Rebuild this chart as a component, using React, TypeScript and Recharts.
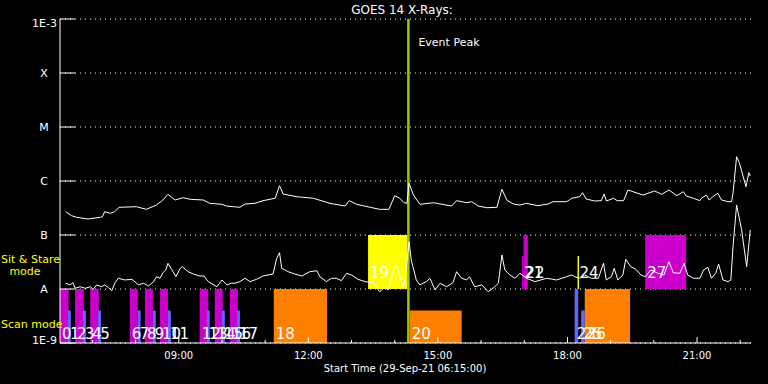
import {
  ComposedChart,
  Line,
  XAxis,
  YAxis,
  CartesianGrid,
  ReferenceArea,
  ReferenceLine,
} from "recharts";

const FONT = "'DejaVu Sans', sans-serif";
const WHITE = "#ffffff";
const YELLOW = "#ffff00";

const START = "06:15";
const END = "22:15";
const HOUR_TICKS = [7, 8, 9, 10, 11, 12, 13, 14, 15, 16, 17, 18, 19, 20, 21, 22];
const LABELLED_HOURS = [9, 12, 15, 18, 21];
const FLUX_TICKS = [1e-9, 1e-8, 1e-7, 1e-6, 1e-5, 1e-4, 1e-3];
const FLUX_NAMES = ["1E-9", "A", "B", "C", "M", "X", "1E-3"];
const EVENT_PEAK = "14:19";

// GOES long channel (1-8 A)
const longChannel: [string, number][] = [
  ["06:23", 2.7e-7], ["06:31", 2.28e-7], ["06:38", 2.13e-7], ["06:54", 1.98e-7],
  ["07:11", 2.13e-7], ["07:14", 2.18e-7], ["07:17", 2.7e-7], ["07:25", 2.52e-7],
  ["07:31", 2.7e-7], ["07:37", 3.26e-7], ["08:01", 3.34e-7], ["08:15", 2.99e-7],
  ["08:29", 3.59e-7], ["08:38", 4.45e-7], ["08:45", 5.67e-7], ["08:55", 4.45e-7],
  ["09:06", 4.91e-7], ["09:16", 4.58e-7], ["09:34", 4.45e-7], ["09:43", 3.86e-7],
  ["10:00", 3.7e-7], ["10:06", 3.44e-7], ["10:16", 3.34e-7], ["10:25", 3.26e-7],
  ["10:32", 3.75e-7], ["10:46", 3.86e-7], ["10:57", 4.32e-7], ["11:14", 4.79e-7],
  ["11:20", 8.18e-7], ["11:25", 5.74e-7], ["11:44", 5.12e-7], ["12:07", 4.79e-7],
  ["12:30", 3.86e-7], ["12:51", 3.44e-7], ["12:57", 4.32e-7], ["13:07", 3.7e-7],
  ["13:26", 3.26e-7], ["13:39", 2.99e-7], ["13:52", 2.99e-7], ["14:00", 5.35e-7],
  ["14:07", 4.79e-7], ["14:13", 3.96e-7], ["14:17", 3.86e-7], ["14:20", 9.06e-7],
  ["14:26", 5.5e-7], ["14:35", 3.7e-7], ["14:54", 3.96e-7], ["15:19", 3.44e-7],
  ["15:26", 4.32e-7], ["15:40", 3.96e-7], ["15:47", 4.14e-7], ["15:56", 3.44e-7],
  ["16:08", 3.2e-7], ["16:22", 3.26e-7], ["16:29", 7.02e-7], ["16:36", 4.37e-7],
  ["16:45", 3.75e-7], ["16:54", 3.59e-7], ["17:03", 3.86e-7], ["17:19", 3.49e-7],
  ["17:33", 3.75e-7], ["17:40", 4.14e-7], ["17:59", 4.14e-7], ["18:06", 4.79e-7],
  ["18:17", 5.12e-7], ["18:21", 6.07e-7], ["18:26", 4.64e-7], ["18:38", 4.26e-7],
  ["18:47", 4.32e-7], ["18:51", 5.74e-7], ["18:54", 4.26e-7], ["19:04", 4.79e-7],
  ["19:09", 4.32e-7], ["19:18", 4.32e-7], ["19:24", 6.81e-7], ["19:31", 6.34e-7],
  ["19:45", 5.5e-7], ["20:01", 6.53e-7], ["20:11", 5.67e-7], ["20:21", 6.81e-7],
  ["20:32", 5.35e-7], ["20:41", 6.34e-7], ["20:45", 5.27e-7], ["20:55", 4.79e-7],
  ["21:04", 4.32e-7], ["21:06", 4.79e-7], ["21:13", 5.5e-7], ["21:17", 4.45e-7],
  ["21:22", 5.12e-7], ["21:29", 5.92e-7], ["21:34", 4.45e-7], ["21:43", 4.14e-7],
  ["21:48", 4.14e-7], ["21:50", 5.92e-7], ["21:55", 2.82e-6], ["21:59", 2.13e-6],
  ["22:08", 7.84e-7], ["22:12", 1.43e-6], ["22:14", 1.24e-6],
];

// GOES short channel (0.5-4 A)
const shortChannel: [string, number][] = [
  ["06:23", 1.28e-8], ["06:29", 1.19e-8], ["06:33", 1.31e-8], ["06:36", 1.03e-8],
  ["06:43", 1.1e-8], ["06:50", 1.03e-8], ["06:57", 1.1e-8], ["07:01", 9.9e-9],
  ["07:06", 1.19e-8], ["07:13", 1.1e-8], ["07:17", 1.19e-8], ["07:22", 1.07e-8],
  ["07:27", 9.3e-9], ["07:31", 1.28e-8], ["07:36", 1.58e-8], ["07:45", 1.47e-8],
  ["07:55", 1.51e-8], ["08:04", 1.19e-8], ["08:11", 1.28e-8], ["08:18", 1.14e-8],
  ["08:25", 1.37e-8], ["08:29", 1.69e-8], ["08:34", 1.58e-8], ["08:38", 2.0e-8],
  ["08:42", 2.25e-8], ["08:45", 2.99e-8], ["08:50", 2.32e-8], ["08:56", 1.69e-8],
  ["09:02", 2.42e-8], ["09:05", 2.59e-8], ["09:13", 2.09e-8], ["09:20", 1.9e-8],
  ["09:29", 1.74e-8], ["09:35", 1.74e-8], ["09:41", 1.37e-8], ["09:53", 1.1e-8],
  ["10:00", 1.47e-8], ["10:07", 1.19e-8], ["10:13", 1.28e-8], ["10:18", 1.28e-8],
  ["10:25", 1.37e-8], ["10:32", 1.58e-8], ["10:39", 1.37e-8], ["10:48", 1.51e-8],
  ["10:57", 1.74e-8], ["11:11", 1.9e-8], ["11:16", 3.7e-8], ["11:20", 4.7e-8],
  ["11:23", 2.42e-8], ["11:32", 2.09e-8], ["11:41", 1.9e-8], ["11:51", 1.74e-8],
  ["12:02", 2.09e-8], ["12:12", 2.18e-8], ["12:16", 1.69e-8], ["12:25", 1.37e-8],
  ["12:32", 1.58e-8], ["12:39", 1.58e-8], ["12:46", 1.43e-8], ["12:53", 1.95e-8],
  ["13:00", 1.82e-8], ["13:09", 1.51e-8], ["13:19", 1.37e-8], ["13:30", 1.31e-8],
  ["13:39", 8.9e-9], ["13:46", 1.07e-8], ["13:51", 9.6e-9], ["13:58", 2.18e-8],
  ["14:02", 2.78e-8], ["14:07", 1.82e-8], ["14:12", 1.1e-8], ["14:14", 1.37e-8],
  ["14:20", 7.52e-8], ["14:23", 3.44e-8], ["14:30", 1.47e-8], ["14:35", 1.19e-8],
  ["14:44", 1.37e-8], ["14:49", 1.58e-8], ["14:56", 9.6e-9], ["15:03", 1.28e-8],
  ["15:12", 1.1e-8], ["15:21", 1.31e-8], ["15:26", 2.09e-8], ["15:33", 1.58e-8],
  ["15:40", 1.47e-8], ["15:44", 1.69e-8], ["15:51", 1.1e-8], ["16:01", 1.19e-8],
  ["16:10", 8.9e-9], ["16:19", 1.1e-8], ["16:24", 1.28e-8], ["16:29", 4.26e-8],
  ["16:33", 2.25e-8], ["16:40", 1.82e-8], ["16:47", 1.58e-8], ["16:54", 1.95e-8],
  ["17:03", 1.58e-8], ["17:15", 1.37e-8], ["17:31", 1.58e-8], ["17:45", 1.47e-8],
  ["17:59", 1.69e-8], ["18:06", 1.82e-8], ["18:10", 1.69e-8], ["18:17", 1.58e-8],
  ["18:24", 1.82e-8], ["18:33", 1.58e-8], ["18:43", 1.58e-8], ["18:50", 2.99e-8],
  ["18:54", 1.47e-8], ["19:01", 1.69e-8], ["19:05", 2.42e-8], ["19:10", 1.47e-8],
  ["19:17", 1.82e-8], ["19:21", 3.55e-8], ["19:28", 2.59e-8], ["19:35", 2.32e-8],
  ["19:42", 1.82e-8], ["19:48", 1.69e-8], ["19:56", 2.25e-8], ["20:06", 1.95e-8],
  ["20:14", 1.82e-8], ["20:21", 3.2e-8], ["20:27", 2.0e-8], ["20:36", 1.95e-8],
  ["20:42", 2.99e-8], ["20:47", 1.82e-8], ["20:55", 1.58e-8], ["21:04", 1.58e-8],
  ["21:09", 2.25e-8], ["21:15", 2.52e-8], ["21:20", 1.58e-8], ["21:26", 1.95e-8],
  ["21:30", 2.9e-8], ["21:36", 1.47e-8], ["21:43", 1.37e-8], ["21:47", 1.47e-8],
  ["21:50", 6.07e-8], ["21:55", 3.59e-7], ["22:02", 1.24e-7], ["22:09", 2.59e-8],
  ["22:14", 1.24e-7],
];

// numbered observations: id, kind, start, end, lower flux, upper flux
const observations: [string, string, string, string, number, number][] = [
  ["0", "raster", "06:15", "06:27", 1e-9, 1e-8],
  ["1", "scan", "06:26", "06:30", 1e-9, 4e-9],
  ["2", "raster", "06:36", "06:48", 1e-9, 1e-8],
  ["3", "scan", "06:47", "06:51", 1e-9, 4e-9],
  ["4", "raster", "06:57", "07:09", 1e-9, 1e-8],
  ["5", "scan", "07:08", "07:12", 1e-9, 4e-9],
  ["6", "raster", "07:52", "08:03", 1e-9, 1e-8],
  ["7", "scan", "08:03", "08:07", 1e-9, 4e-9],
  ["8", "raster", "08:13", "08:24", 1e-9, 1e-8],
  ["9", "scan", "08:24", "08:28", 1e-9, 4e-9],
  ["10", "raster", "08:34", "08:45", 1e-9, 1e-8],
  ["11", "scan", "08:45", "08:49", 1e-9, 4e-9],
  ["12", "raster", "09:29", "09:41", 1e-9, 1e-8],
  ["13", "scan", "09:39", "09:43", 1e-9, 4e-9],
  ["14", "raster", "09:50", "10:01", 1e-9, 1e-8],
  ["15", "scan", "10:00", "10:04", 1e-9, 4e-9],
  ["16", "raster", "10:11", "10:22", 1e-9, 1e-8],
  ["17", "scan", "10:21", "10:25", 1e-9, 4e-9],
  ["18", "mosaic", "11:12", "12:26", 1e-9, 1e-8],
  ["19", "stare", "13:23", "14:18", 1e-8, 1e-7],
  ["20", "mosaic", "14:21", "15:33", 1e-9, 4e-9],
  ["21", "raster", "16:57", "16:59", 1e-8, 4.1e-8],
  ["22", "raster", "16:59", "17:05", 1e-8, 1e-7],
  ["23", "scan", "18:10", "18:15", 1e-9, 1e-8],
  ["24", "stare", "18:14", "18:16", 1e-8, 4.1e-8],
  ["25", "scan", "18:19", "18:24", 1e-9, 4e-9],
  ["26", "mosaic", "18:24", "19:27", 1e-9, 1e-8],
  ["27", "raster", "19:48", "20:45", 1e-8, 1e-7],
];

const KIND_COLORS: Record<string, string> = {
  raster: "#cc00cc",
  scan: "#6464ff",
  stare: "#ffff00",
  mosaic: "#ff8000",
};

function toHours(s: string): number {
  const [h, m] = s.split(":").map(Number);
  return h + m / 60;
}

const longData = longChannel.map(([t, flux]) => ({ t: toHours(t), flux }));
const shortData = shortChannel.map(([t, flux]) => ({ t: toHours(t), flux }));

// eslint-disable-next-line @typescript-eslint/no-explicit-any
function BottomTick({ x, y, payload }: any) {
  const major = LABELLED_HOURS.includes(payload.value);
  return (
    <g>
      <line x1={x} x2={x} y1={y} y2={y - (major ? 6 : 3)} stroke={WHITE} />
      {major && (
        <text x={x} y={y + 16} textAnchor="middle" fill={WHITE} fontSize={10} fontFamily={FONT}>
          {String(payload.value).padStart(2, "0")}:00
        </text>
      )}
    </g>
  );
}

// eslint-disable-next-line @typescript-eslint/no-explicit-any
function TopTick({ x, y, payload }: any) {
  const major = LABELLED_HOURS.includes(payload.value);
  return <line x1={x} x2={x} y1={y} y2={y + (major ? 7 : 3)} stroke={WHITE} />;
}

// eslint-disable-next-line @typescript-eslint/no-explicit-any
function LeftTick({ x, y, payload }: any) {
  const idx = FLUX_TICKS.findIndex((v) => Math.abs(Math.log10(v) - Math.log10(payload.value)) < 0.01);
  const name = FLUX_NAMES[idx];
  const isNumber = name.length > 1;
  const dy = idx === 0 ? -3 : idx === FLUX_TICKS.length - 1 ? 4 : 0;
  return (
    <g>
      <line x1={x} x2={x + 15} y1={y} y2={y} stroke={WHITE} />
      <text
        x={isNumber ? x - 3 : x - 16}
        y={y + dy}
        dy="0.36em"
        textAnchor={isNumber ? "end" : "middle"}
        fill={WHITE}
        fontSize={11}
        fontFamily={FONT}
      >
        {name}
      </text>
    </g>
  );
}

// eslint-disable-next-line @typescript-eslint/no-explicit-any
function RightTick({ x, y }: any) {
  return <line x1={x - 15} x2={x} y1={y} y2={y} stroke={WHITE} />;
}

function boxLabel(text: string, pad: number) {
  // eslint-disable-next-line @typescript-eslint/no-explicit-any
  return (props: any) => {
    const { x, y, height } = props.viewBox;
    return (
      <text x={x + 2} y={y + height - pad} fill={WHITE} fontSize={15} fontFamily={FONT}>
        {text}
      </text>
    );
  };
}

export default function App() {
  return (
    <div style={{ position: "absolute", left: 0, top: 0, width: 768, height: 384, background: "#000" }}>
      <ComposedChart width={768} height={384} margin={{ top: 19, right: 17, bottom: 11, left: 0 }}>
        <CartesianGrid horizontal vertical={false} stroke={WHITE} strokeDasharray="1 4" yAxisId="left" />
        <XAxis
          dataKey="t"
          type="number"
          domain={[toHours(START), toHours(END)]}
          ticks={HOUR_TICKS}
          height={30}
          tickSize={0}
          tickMargin={0}
          tick={<BottomTick />}
          axisLine={{ stroke: WHITE }}
          allowDataOverflow
        />
        <XAxis
          xAxisId="top"
          orientation="top"
          type="number"
          domain={[toHours(START), toHours(END)]}
          ticks={HOUR_TICKS}
          height={0}
          tickSize={0}
          tickMargin={0}
          tick={<TopTick />}
          axisLine={{ stroke: WHITE }}
          allowDataOverflow
        />
        <YAxis
          yAxisId="left"
          scale="log"
          domain={[1e-9, 1e-3]}
          ticks={FLUX_TICKS}
          width={60}
          tickSize={0}
          tickMargin={0}
          tick={<LeftTick />}
          axisLine={{ stroke: WHITE }}
          allowDataOverflow
        />
        <YAxis
          yAxisId="right"
          orientation="right"
          scale="log"
          domain={[1e-9, 1e-3]}
          ticks={FLUX_TICKS}
          width={0}
          tickSize={0}
          tickMargin={0}
          tick={<RightTick />}
          axisLine={{ stroke: WHITE }}
          allowDataOverflow
        />

        {observations.map(([id, kind, from, to, lo, hi]) => (
          <ReferenceArea
            key={`box-${id}`}
            yAxisId="left"
            x1={toHours(from)}
            x2={toHours(to)}
            y1={lo}
            y2={hi}
            fill={KIND_COLORS[kind]}
            fillOpacity={1}
            stroke="none"
            ifOverflow="visible"
          />
        ))}
        {observations.map(([id, , from, to, lo, hi]) => (
          <ReferenceArea
            key={`label-${id}`}
            yAxisId="left"
            x1={toHours(from)}
            x2={toHours(to)}
            y1={lo}
            y2={hi}
            fill="none"
            stroke="none"
            ifOverflow="visible"
            label={boxLabel(id, lo >= 1e-8 ? 11 : 4)}
          />
        ))}

        <ReferenceLine
          yAxisId="left"
          x={toHours(EVENT_PEAK)}
          stroke="#99cc00"
          strokeWidth={2.5}
          label={{
            value: "Event Peak",
            position: "insideTopLeft",
            offset: 0,
            content: (props: any) => (
              <text x={props.viewBox.x + 10} y={props.viewBox.y + 27} fill={WHITE} fontSize={11} fontFamily={FONT}>
                Event Peak
              </text>
            ),
          }}
        />

        <Line
          yAxisId="left"
          data={longData}
          dataKey="flux"
          type="linear"
          stroke={WHITE}
          strokeWidth={1}
          dot={false}
          isAnimationActive={false}
        />
        <Line
          yAxisId="left"
          data={shortData}
          dataKey="flux"
          type="linear"
          stroke={WHITE}
          strokeWidth={1}
          dot={false}
          isAnimationActive={false}
        />
      </ComposedChart>

      <svg width={768} height={384} style={{ position: "absolute", left: 0, top: 0, pointerEvents: "none" }}>
        <text x={402} y={14} textAnchor="middle" fill={WHITE} fontSize={12} fontFamily={FONT}>
          GOES 14 X-Rays:
        </text>
        <text x={1} y={263} fill={YELLOW} fontSize={11} fontFamily={FONT}>
          Sit &amp; Stare
        </text>
        <text x={25} y={275} textAnchor="middle" fill={YELLOW} fontSize={11} fontFamily={FONT}>
          mode
        </text>
        <text x={1} y={328} fill={YELLOW} fontSize={11} fontFamily={FONT}>
          Scan mode
        </text>
        <text x={405} y={372} textAnchor="middle" fill={WHITE} fontSize={10} fontFamily={FONT}>
          Start Time (29-Sep-21 06:15:00)
        </text>
      </svg>
    </div>
  );
}
